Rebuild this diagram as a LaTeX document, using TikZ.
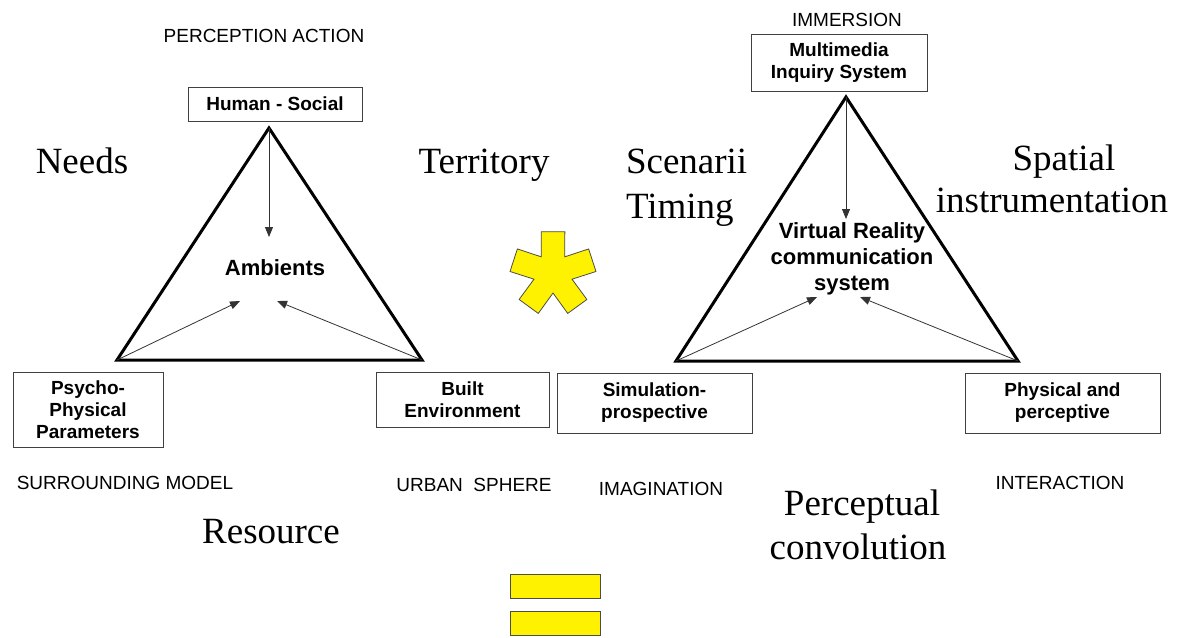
\documentclass[tikz,border=0pt]{standalone}
\usepackage{fontspec}
\setmainfont{Liberation Serif}
\setsansfont{Liberation Sans}
\usepackage{tikz}
\usetikzlibrary{calc}
\usetikzlibrary{positioning}
\usetikzlibrary{arrows.meta}

\begin{document}
\begin{tikzpicture}[x=1pt, y=-1pt, >={Triangle[length=10pt,width=8pt]},
  every node/.style={inner sep=0pt, outer sep=0pt},
  big word/.style={font=\fontsize{37}{44}\selectfont},
  cap label/.style={font=\sffamily\fontsize{19}{22}\selectfont, anchor=base},
  name box/.style={draw=black!75, line width=1pt, align=center,
    font=\sffamily\bfseries\fontsize{19}{22}\selectfont},
  core text/.style={align=center, font=\sffamily\bfseries\fontsize{22}{26}\selectfont},
  side/.style={line width=3pt},
  feed/.style={->, line width=0.8pt, black!80},
  asterisk/.style={fill=yellow, draw=black!70, line width=0.8pt},
  yellow bar/.style={draw=black!70, fill=yellow, line width=1pt, minimum width=90pt, minimum height=24pt}]

  \useasboundingbox (0,0) rectangle (1183,637);

  % left triangle
  \coordinate (hs top) at (269,128);
  \coordinate (hs left) at (117,360);
  \coordinate (hs right) at (422,360);
  \coordinate (hs tip) at (269,237);
  \coordinate (hs tipl) at (240,301);
  \coordinate (hs tipr) at (277,301);

  \node[cap label] (percept) at (264,42.7) {PERCEPTION ACTION};
  \node[name box, minimum width=174pt, minimum height=34pt] (human) at (275,104) {Human - Social};
  \node[core text] (ambients) at (275,268) {Ambients};
  \node[name box, minimum width=150pt, minimum height=75pt] (psycho) at (88,409.5) {Psycho-\\Physical\\Parameters};
  \node[name box, minimum width=173pt, minimum height=55pt] (built) at (462.5,399.5) {Built\\Environment};
  \node[cap label] (surround) at (125,489) {SURROUNDING MODEL};
  \node[cap label] (urban) at (474,491) {URBAN\ \ SPHERE};

  \node[big word, anchor=base] (needs) at (82,173) {Needs};
  \node[big word, anchor=base] (territory) at (484,173) {Territory};
  \node[big word, anchor=base] (resource) at (271,543) {Resource};

  \draw[side] (hs top) -- (hs left) -- (hs right) -- cycle;
  \path[feed] (hs top) edge [] (hs tip);
  \path[feed] (hs left) edge [] (hs tipl);
  \path[feed] (hs right) edge [] (hs tipr);

  % star and bars
  \coordinate (ast) at (553,273);
  \draw[asterisk] ($(ast)+(18:20)$) \foreach \a in {54,126,198,270,342} {
    -- ($(ast)+(\a-16:43)$) -- ($(ast)+(\a+16:43)$) -- ($(ast)+(\a+36:20)$) } -- cycle;
  \node[yellow bar] (bar1) at (555,586) {};
  \node[yellow bar] (bar2) [below=13pt of bar1] {};

  % right triangle
  \coordinate (vr top) at (846,97);
  \coordinate (vr left) at (676,361);
  \coordinate (vr right) at (1018,361);
  \coordinate (vr tip) at (846,219);
  \coordinate (vr tipl) at (817,297);
  \coordinate (vr tipr) at (860,297);

  \node[cap label] (immersion) at (847,27) {IMMERSION};
  \node[name box, minimum width=176pt, minimum height=57pt] (inquiry) at (839,62.5) {Multimedia\\Inquiry System};
  \node[core text] (vrcom) at (852,259) {Virtual Reality\\communication\\system};
  \node[name box, minimum width=195pt, minimum height=60pt] (simul) at (654.5,403) {Simulation-\\prospective};
  \node[name box, minimum width=195pt, minimum height=60pt] (physical) at (1062.5,403) {Physical and\\perceptive};
  \node[cap label] (imagin) at (661,495) {IMAGINATION};
  \node[cap label] (interact) at (1060,489) {INTERACTION};

  \node[big word, anchor=base west] (scenarii) at (626,173) {Scenarii};
  \node[big word, anchor=base west] (timing) at (626,218) {Timing};
  \node[big word, anchor=base] (spatial) at (1064,170) {Spatial};
  \node[big word, anchor=base] (instrum) at (1052,212) {instrumentation};
  \node[big word, anchor=base] (percep) at (862,515) {Perceptual};
  \node[big word, anchor=base] (convol) at (858,559) {convolution};

  \draw[side] (vr top) -- (vr left) -- (vr right) -- cycle;
  \path[feed] (vr top) edge [] (vr tip);
  \path[feed] (vr left) edge [] (vr tipl);
  \path[feed] (vr right) edge [] (vr tipr);
\end{tikzpicture}
\end{document}
